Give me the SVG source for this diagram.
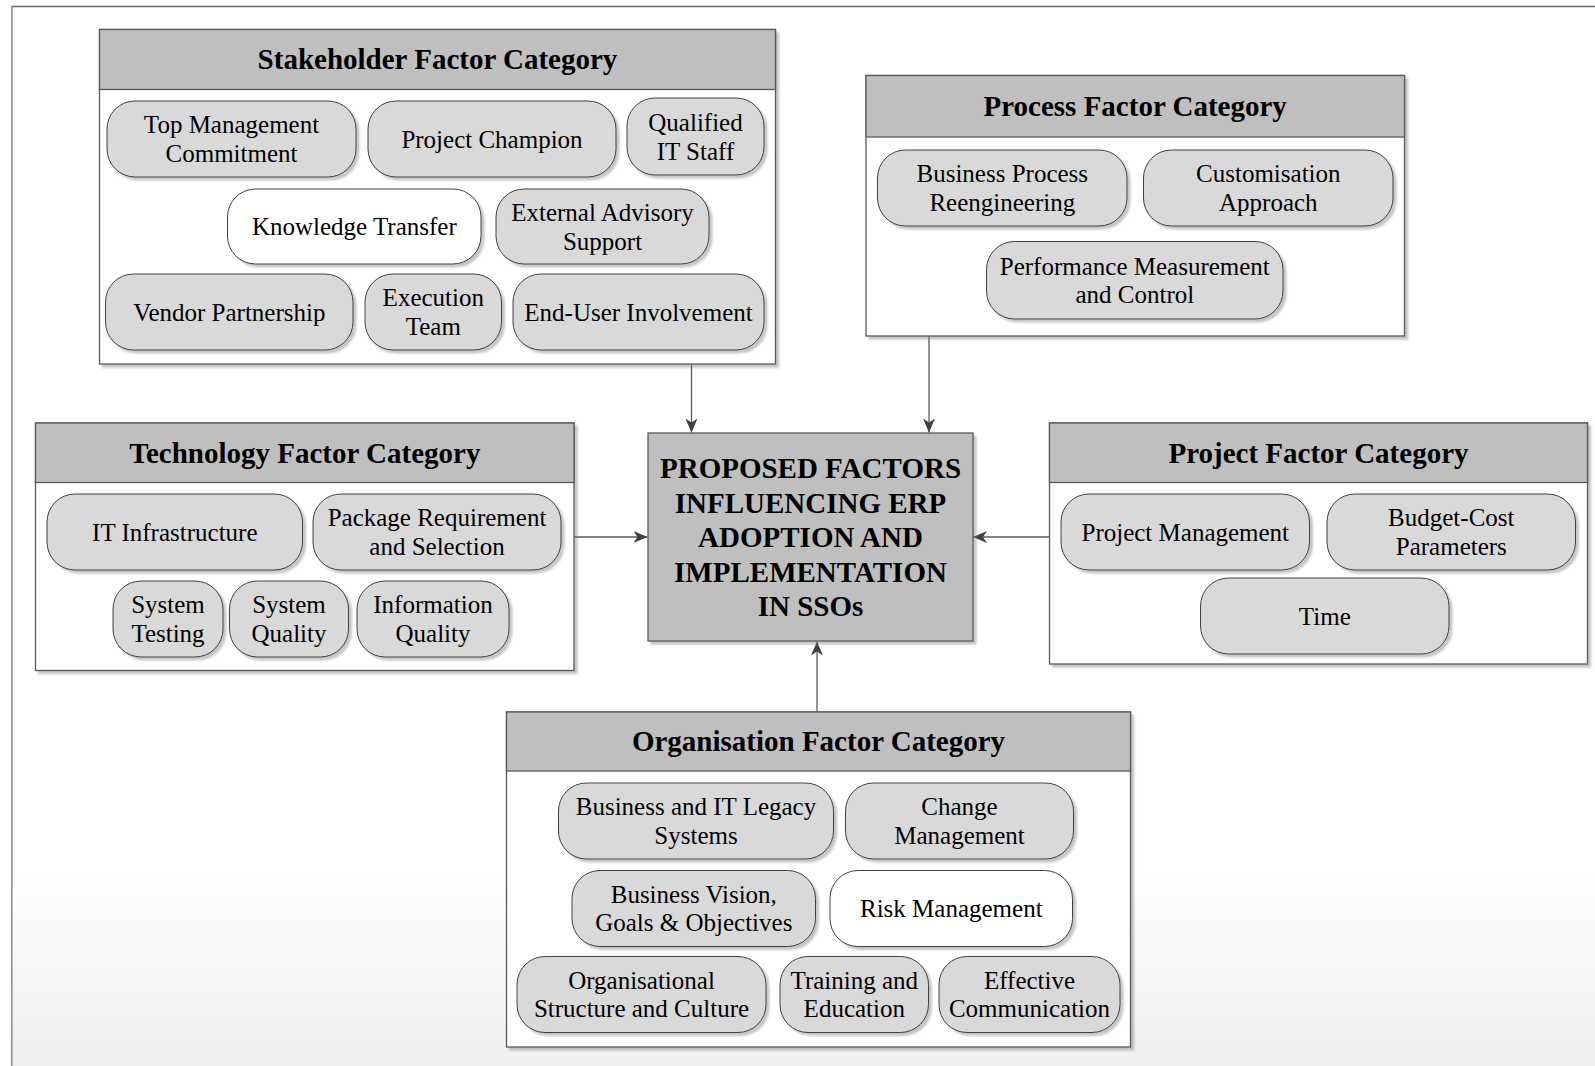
<svg xmlns="http://www.w3.org/2000/svg" width="1595" height="1066" viewBox="0 0 1595 1066">
  <defs>
    <linearGradient id="bg" x1="0" y1="0" x2="0" y2="1066" gradientUnits="userSpaceOnUse">
      <stop offset="0" stop-color="#ffffff"/>
      <stop offset="0.82" stop-color="#ffffff"/>
      <stop offset="1" stop-color="#efefef"/>
    </linearGradient>
    <filter id="shadow" x="-10%" y="-10%" width="125%" height="130%">
      <feDropShadow dx="3" dy="3" stdDeviation="1.2" flood-color="#7f7f7f" flood-opacity="0.45"/>
    </filter>
    <marker id="arrow" viewBox="0 0 14 12" refX="14" refY="6" markerWidth="14" markerHeight="12" markerUnits="userSpaceOnUse" orient="auto">
      <path d="M0,0 L14,6 L0,12 L4,6 z" fill="#404040"/>
    </marker>
    <style>
      .frame-top { stroke: #666666; stroke-width: 1.4; fill: none; }
      .frame-left { stroke: #9a9a9a; stroke-width: 1.8; fill: none; }
      .body { fill: #ffffff; stroke: #595959; stroke-width: 1.3; filter: url(#shadow); }
      .head { fill: #bfbfbf; stroke: #595959; stroke-width: 1.3; }
      .core { fill: #bfbfbf; stroke: #595959; stroke-width: 1.3; filter: url(#shadow); }
      .pill { fill: #d9d9d9; stroke: #404040; stroke-width: 1; filter: url(#shadow); }
      .pill-w { fill: #ffffff; stroke: #404040; stroke-width: 1; filter: url(#shadow); }
      .title { font-family: "Liberation Serif", "Times New Roman", serif; font-weight: bold; font-size: 29px; fill: #000000; text-anchor: middle; }
      .label { font-family: "Liberation Serif", "Times New Roman", serif; font-size: 25px; fill: #000000; text-anchor: middle; }
      .conn { stroke: #595959; stroke-width: 1.3; fill: none; marker-end: url(#arrow); }
    </style>
  </defs>

  <!-- page background and frame -->
  <rect x="12" y="6.5" width="1583" height="1060" fill="url(#bg)"/>
  <line class="frame-top" x1="11" y1="6.5" x2="1595" y2="6.5"/>
  <line class="frame-left" x1="11.8" y1="6" x2="11.8" y2="1066"/>

  <!-- connectors -->
  <g id="connectors">
    <line class="conn" x1="691.5" y1="364" x2="691.5" y2="432.5"/>
    <line class="conn" x1="929" y1="336" x2="929" y2="432.5"/>
    <line class="conn" x1="574" y1="537" x2="647.5" y2="537"/>
    <line class="conn" x1="1049.5" y1="537" x2="973" y2="537"/>
    <line class="conn" x1="817" y1="711.5" x2="817" y2="641.5"/>
  </g>

  <!-- central node -->
  <g id="core">
    <rect class="core" x="648" y="433" width="325" height="208"/>
    <text class="title" x="810.5" y="478">PROPOSED FACTORS</text>
    <text class="title" x="810.5" y="512.5">INFLUENCING ERP</text>
    <text class="title" x="810.5" y="547">ADOPTION AND</text>
    <text class="title" x="810.5" y="581.5">IMPLEMENTATION</text>
    <text class="title" x="810.5" y="615.5">IN SSOs</text>
  </g>

  <!-- Stakeholder category -->
  <g id="stakeholder">
    <rect class="body" x="99.5" y="29.5" width="676" height="334.5"/>
    <rect class="head" x="99.5" y="29.5" width="676" height="60"/>
    <text class="title" x="437.5" y="69">Stakeholder Factor Category</text>
    <g id="s-top-management">
      <rect class="pill" x="107" y="101" width="249" height="76" rx="28"/>
      <text class="label" x="231.5" y="133.3">Top Management</text>
      <text class="label" x="231.5" y="161.8">Commitment</text>
    </g>
    <g id="s-project-champion">
      <rect class="pill" x="368" y="101" width="248" height="76" rx="28"/>
      <text class="label" x="492" y="147.5">Project Champion</text>
    </g>
    <g id="s-qualified-staff">
      <rect class="pill" x="627" y="98" width="137" height="77" rx="28"/>
      <text class="label" x="695.5" y="131">Qualified</text>
      <text class="label" x="695.5" y="159.5">IT Staff</text>
    </g>
    <g id="s-knowledge-transfer">
      <rect class="pill-w" x="227.5" y="189" width="253.5" height="75" rx="28"/>
      <text class="label" x="354.3" y="235">Knowledge Transfer</text>
    </g>
    <g id="s-external-advisory">
      <rect class="pill" x="496" y="189" width="213" height="75" rx="28"/>
      <text class="label" x="602.5" y="221">External Advisory</text>
      <text class="label" x="602.5" y="249.5">Support</text>
    </g>
    <g id="s-vendor-partnership">
      <rect class="pill" x="105.5" y="274" width="247.5" height="76" rx="28"/>
      <text class="label" x="229.3" y="320.5">Vendor Partnership</text>
    </g>
    <g id="s-execution-team">
      <rect class="pill" x="365" y="274" width="136.5" height="76" rx="28"/>
      <text class="label" x="433.3" y="306.3">Execution</text>
      <text class="label" x="433.3" y="334.8">Team</text>
    </g>
    <g id="s-end-user">
      <rect class="pill" x="513" y="274" width="251" height="76" rx="28"/>
      <text class="label" x="638.5" y="320.5">End-User Involvement</text>
    </g>
  </g>

  <!-- Process category -->
  <g id="process">
    <rect class="body" x="866" y="75.5" width="538.5" height="260.5"/>
    <rect class="head" x="866" y="75.5" width="538.5" height="61.5"/>
    <text class="title" x="1135.2" y="115.5">Process Factor Category</text>
    <g id="p-bpr">
      <rect class="pill" x="877.5" y="150" width="249.5" height="76" rx="28"/>
      <text class="label" x="1002.3" y="182.3">Business Process</text>
      <text class="label" x="1002.3" y="210.8">Reengineering</text>
    </g>
    <g id="p-customisation">
      <rect class="pill" x="1143.5" y="150" width="249.5" height="76" rx="28"/>
      <text class="label" x="1268.3" y="182.3">Customisation</text>
      <text class="label" x="1268.3" y="210.8">Approach</text>
    </g>
    <g id="p-performance">
      <rect class="pill" x="986.5" y="241.5" width="296.5" height="77.5" rx="28"/>
      <text class="label" x="1134.8" y="274.5">Performance Measurement</text>
      <text class="label" x="1134.8" y="303">and Control</text>
    </g>
  </g>

  <!-- Technology category -->
  <g id="technology">
    <rect class="body" x="35.5" y="423" width="538.5" height="247.5"/>
    <rect class="head" x="35.5" y="423" width="538.5" height="59.5"/>
    <text class="title" x="304.8" y="462.5">Technology Factor Category</text>
    <g id="t-infrastructure">
      <rect class="pill" x="47" y="494" width="255.5" height="76" rx="28"/>
      <text class="label" x="174.8" y="540.5">IT Infrastructure</text>
    </g>
    <g id="t-package">
      <rect class="pill" x="313" y="494" width="248" height="76" rx="28"/>
      <text class="label" x="437" y="526.3">Package Requirement</text>
      <text class="label" x="437" y="554.8">and Selection</text>
    </g>
    <g id="t-system-testing">
      <rect class="pill" x="113" y="581" width="110" height="76" rx="28"/>
      <text class="label" x="168" y="613.3">System</text>
      <text class="label" x="168" y="641.8">Testing</text>
    </g>
    <g id="t-system-quality">
      <rect class="pill" x="229.5" y="581" width="119" height="76" rx="28"/>
      <text class="label" x="289" y="613.3">System</text>
      <text class="label" x="289" y="641.8">Quality</text>
    </g>
    <g id="t-information-quality">
      <rect class="pill" x="357" y="581" width="152" height="76" rx="28"/>
      <text class="label" x="433" y="613.3">Information</text>
      <text class="label" x="433" y="641.8">Quality</text>
    </g>
  </g>

  <!-- Project category -->
  <g id="project">
    <rect class="body" x="1049.5" y="423" width="538" height="241"/>
    <rect class="head" x="1049.5" y="423" width="538" height="59.5"/>
    <text class="title" x="1318.5" y="462.5">Project Factor Category</text>
    <g id="j-project-management">
      <rect class="pill" x="1061" y="494" width="248.5" height="76" rx="28"/>
      <text class="label" x="1185.3" y="540.5">Project Management</text>
    </g>
    <g id="j-budget-cost">
      <rect class="pill" x="1327" y="494" width="248.5" height="76" rx="28"/>
      <text class="label" x="1451.3" y="526.3">Budget-Cost</text>
      <text class="label" x="1451.3" y="554.8">Parameters</text>
    </g>
    <g id="j-time">
      <rect class="pill" x="1200.5" y="578" width="248.5" height="76" rx="28"/>
      <text class="label" x="1324.8" y="624.5">Time</text>
    </g>
  </g>

  <!-- Organisation category -->
  <g id="organisation">
    <rect class="body" x="506.5" y="712" width="624" height="335"/>
    <rect class="head" x="506.5" y="712" width="624" height="59"/>
    <text class="title" x="818.5" y="751">Organisation Factor Category</text>
    <g id="o-legacy">
      <rect class="pill" x="558.5" y="783" width="275" height="76" rx="28"/>
      <text class="label" x="696" y="815.3">Business and IT Legacy</text>
      <text class="label" x="696" y="843.8">Systems</text>
    </g>
    <g id="o-change">
      <rect class="pill" x="845.5" y="783" width="228" height="76" rx="28"/>
      <text class="label" x="959.5" y="815.3">Change</text>
      <text class="label" x="959.5" y="843.8">Management</text>
    </g>
    <g id="o-vision">
      <rect class="pill" x="572" y="870.5" width="243.5" height="76" rx="28"/>
      <text class="label" x="693.8" y="902.8">Business Vision,</text>
      <text class="label" x="693.8" y="931.3">Goals &amp; Objectives</text>
    </g>
    <g id="o-risk">
      <rect class="pill-w" x="830" y="870.5" width="242.5" height="76" rx="28"/>
      <text class="label" x="951.3" y="917">Risk Management</text>
    </g>
    <g id="o-structure">
      <rect class="pill" x="517" y="956.5" width="249" height="76" rx="28"/>
      <text class="label" x="641.5" y="988.8">Organisational</text>
      <text class="label" x="641.5" y="1017.3">Structure and Culture</text>
    </g>
    <g id="o-training">
      <rect class="pill" x="780" y="956.5" width="148.5" height="76" rx="28"/>
      <text class="label" x="854.3" y="988.8">Training and</text>
      <text class="label" x="854.3" y="1017.3">Education</text>
    </g>
    <g id="o-communication">
      <rect class="pill" x="939" y="956.5" width="181" height="76" rx="28"/>
      <text class="label" x="1029.5" y="988.8">Effective</text>
      <text class="label" x="1029.5" y="1017.3">Communication</text>
    </g>
  </g>
</svg>
